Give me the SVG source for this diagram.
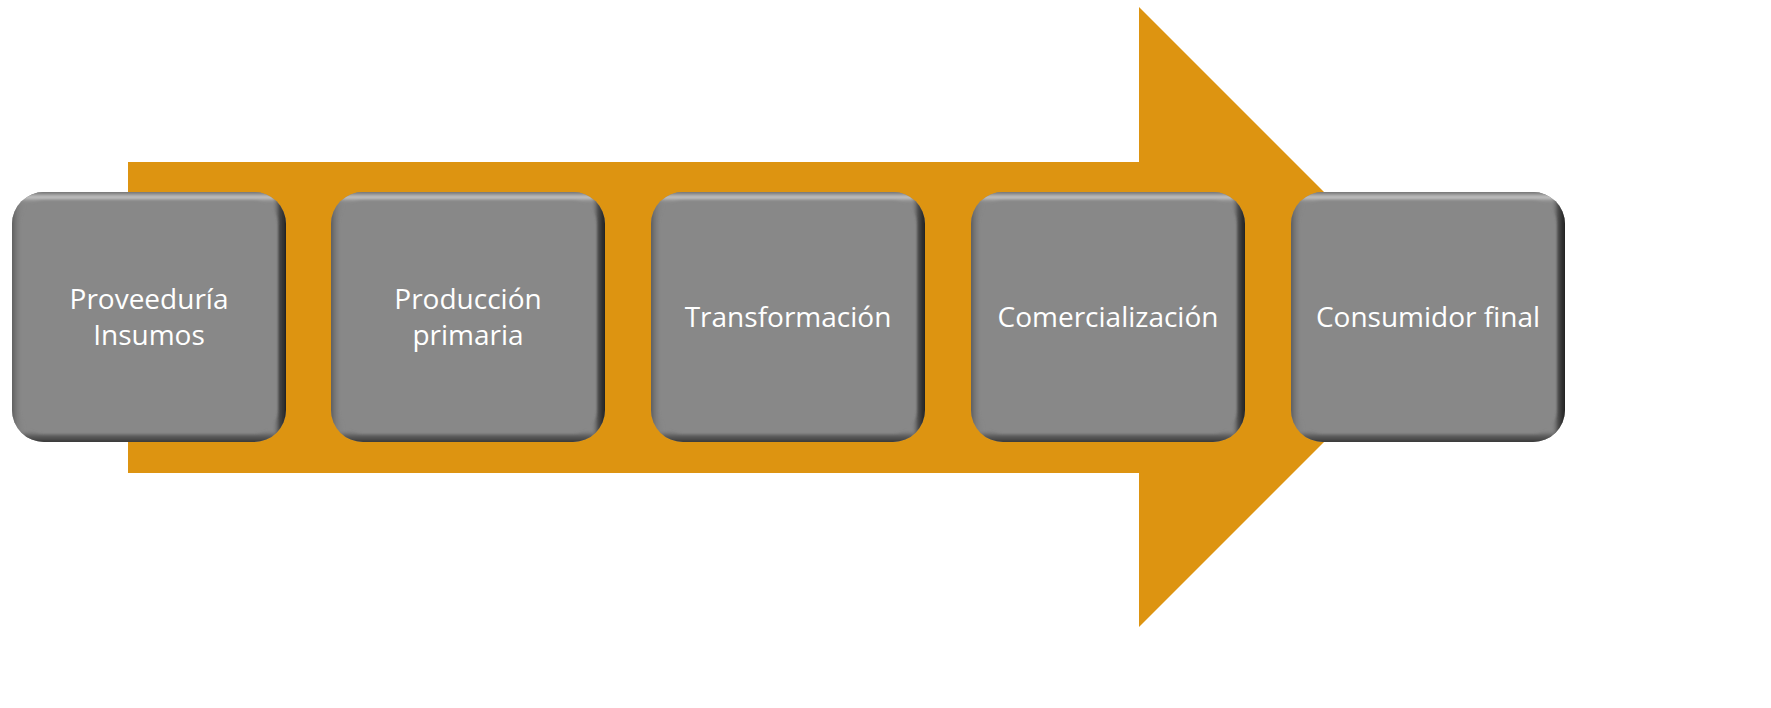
<svg xmlns="http://www.w3.org/2000/svg" xmlns:xlink="http://www.w3.org/1999/xlink" width="1771" height="708" viewBox="0 0 1771 708">
<style>
.lbl{font-family:"Open Sans","Noto Sans","Liberation Sans",sans-serif;font-size:28px;fill:#ffffff;text-anchor:middle}
.arrow{fill:#DD9411}
</style>
<defs>
<clipPath id="tileClip"><rect width="274" height="250" rx="32"/></clipPath>
<linearGradient id="gH" x1="0" y1="0" x2="1" y2="0">
<stop offset="0" stop-color="#5a5a5a" stop-opacity="0.9"/>
<stop offset="0.025" stop-color="#777" stop-opacity="0.4"/>
<stop offset="0.05" stop-color="#888" stop-opacity="0"/>
<stop offset="0.95" stop-color="#888" stop-opacity="0"/>
<stop offset="0.975" stop-color="#3a3a3a" stop-opacity="0.8"/>
<stop offset="1" stop-color="#222" stop-opacity="1"/>
</linearGradient>
<linearGradient id="gV" x1="0" y1="0" x2="0" y2="1">
<stop offset="0" stop-color="#707070" stop-opacity="1"/>
<stop offset="0.01" stop-color="#9a9a9a" stop-opacity="1"/>
<stop offset="0.022" stop-color="#c6c6c6" stop-opacity="1"/>
<stop offset="0.045" stop-color="#888" stop-opacity="0"/>
<stop offset="0.95" stop-color="#888" stop-opacity="0"/>
<stop offset="0.975" stop-color="#555" stop-opacity="0.8"/>
<stop offset="1" stop-color="#3a3a3a" stop-opacity="1"/>
</linearGradient>
<filter id="soft" x="-5%" y="-5%" width="110%" height="110%"><feGaussianBlur stdDeviation="1"/></filter>
<g id="tile">
<rect width="274" height="250" rx="32" fill="#888888"/>
<g clip-path="url(#tileClip)">
<g filter="url(#soft)">
<rect width="274" height="250" rx="32" fill="none" stroke="url(#gV)" stroke-width="16"/>
<rect width="274" height="250" rx="32" fill="none" stroke="url(#gH)" stroke-width="16"/>
</g>
</g>
</g>
</defs>
<g id="connectors">
<polygon class="arrow" points="128,162 1139,162 1139,7 1449,317 1139,627 1139,473 128,473"/>
</g>
<g id="node1">
<use xlink:href="#tile" transform="translate(12,192)"/>
<text class="lbl" x="149" y="309">Proveeduría</text>
<text class="lbl" x="149" y="345">Insumos</text>
</g>
<g id="node2">
<use xlink:href="#tile" transform="translate(331,192)"/>
<text class="lbl" x="468" y="309">Producción</text>
<text class="lbl" x="468" y="345">primaria</text>
</g>
<g id="node3">
<use xlink:href="#tile" transform="translate(651,192)"/>
<text class="lbl" x="788" y="327">Transformación</text>
</g>
<g id="node4">
<use xlink:href="#tile" transform="translate(971,192)"/>
<text class="lbl" x="1108" y="327">Comercialización</text>
</g>
<g id="node5">
<use xlink:href="#tile" transform="translate(1291,192)"/>
<text class="lbl" x="1428" y="327">Consumidor final</text>
</g>
</svg>
